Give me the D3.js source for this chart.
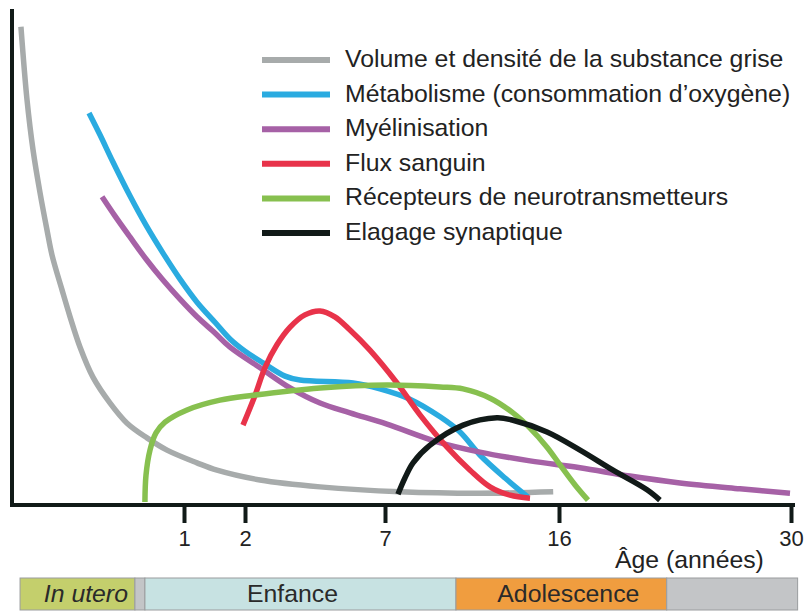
<!DOCTYPE html>
<html><head><meta charset="utf-8">
<script src="https://cdn.jsdelivr.net/npm/d3@7"></script>
<style>
html,body{margin:0;padding:0;background:#fff;}
svg{display:block;font-family:"Liberation Sans",Arial,Helvetica,sans-serif;}
</style></head>
<body>
<svg id="chart" width="808" height="611"></svg>
<script>
// ---- data (age in years, negative = before birth; value = relative level 0-100) ----
const tickAges = [1, 2, 7, 16, 30];
const xLabel = "Âge (années)";

const seriesNames = [
  "Volume et densité de la substance grise",
  "Métabolisme (consommation d’oxygène)",
  "Myélinisation",
  "Flux sanguin",
  "Récepteurs de neurotransmetteurs",
  "Elagage synaptique"
];
const seriesColors = ["#a7abab", "#2aabe0", "#a661a6", "#e8334a", "#87c04f", "#111a18"];

const greyMatter = [[-0.700,97.6],[-0.666,82.7],[-0.632,72.4],[-0.593,63.7],[-0.554,56.1],[-0.526,51.0],[-0.470,43.9],[-0.425,38.4],[-0.369,32.2],[-0.297,26.1],[-0.201,20.8],[-0.106,16.7],[0.026,13.7],[0.553,11.2],[1.213,8.6],[1.541,7.1],[2.536,5.1],[4.68,3.7],[7.78,2.7],[11.9,2.4],[15.7,2.7]];
const metabolism = [[-0.319,80.0],[-0.257,75.5],[-0.185,70.0],[-0.090,63.1],[0,57.1],[0.447,51.4],[0.895,46.1],[1.213,41.4],[1.508,37.3],[1.754,33.9],[2.0,31.4],[2.643,29.0],[3.43,26.3],[3.96,25.5],[5.86,24.9],[6.82,23.7],[8.29,21.6],[9.85,18.0],[10.88,14.9],[11.91,10.2],[13.21,5.5],[14.40,1.6]];
const myelination = [[-0.246,62.9],[-0.174,59.0],[-0.090,54.7],[0,50.2],[0.447,45.9],[0.895,42.0],[1.213,38.4],[1.508,35.1],[1.754,32.2],[2.643,27.6],[3.61,23.9],[4.68,20.8],[5.75,18.8],[7.10,16.5],[9.69,12.9],[11.91,10.8],[14.50,9.0],[17.27,7.6],[20.28,5.9],[23.30,4.5],[26.92,3.3],[29.94,2.4]];
const bloodFlow = [[1.967,16.3],[2.36,22.4],[2.71,28.0],[3.14,32.7],[3.61,36.3],[4.14,38.8],[4.68,39.6],[5.21,38.4],[5.75,35.7],[6.46,31.6],[7.62,24.9],[8.81,18.4],[10.21,11.8],[11.40,7.1],[12.43,3.7],[13.47,2.0],[14.50,1.4]];
const receptors = [[-0.006,0.6],[0,6.1],[0.105,11.2],[0.263,14.7],[0.5,16.9],[1.05,19.4],[1.59,21.4],[2.29,22.4],[4.68,23.9],[7.10,24.5],[9.85,24.1],[11.04,23.7],[12.44,21.8],[13.62,18.8],[14.50,15.7],[15.38,11.8],[16.06,8.2],[16.97,4.1],[17.75,1.0]];
const pruning = [[7.67,2.2],[8.03,5.5],[8.45,8.6],[9.33,12.2],[11.04,16.3],[12.79,17.8],[13.62,17.3],[15.38,14.9],[17.27,11.2],[19.26,7.1],[21.31,3.1],[22.09,1.0]];

const bandLabels = ["In utero", "", "Enfance", "Adolescence", ""];
const bandStarts = [-0.705, -0.062, -0.006, 10.67, 22.5];
const bandEnds   = [-0.062, -0.006, 10.67, 22.5, 30.4];
const bandColors = ["#c4cf6c", "#c3c5c7", "#c7e2e2", "#f09d3f", "#c3c5c7"];

// ---- chart ----
const svg = d3.select("#chart");
const x = d3.scaleLinear()
  .domain([-0.75, 0, 1, 2, 7, 16, 30])
  .range([12, 146, 184, 245, 385, 559, 791]);
const y = d3.scaleLinear().domain([0, 100]).range([505, 15]);

const allSeries = [greyMatter, metabolism, myelination, bloodFlow, receptors, pruning];

const line = d3.line().x(d => x(d[0])).y(d => y(d[1])).curve(d3.curveCatmullRom.alpha(0.5));

svg.append("g").selectAll("path").data(allSeries).join("path")
  .attr("d", line)
  .attr("fill", "none")
  .attr("stroke", (d, i) => seriesColors[i])
  .attr("stroke-width", 5.5)
  .attr("stroke-linecap", "butt");

// axes
svg.append("line")
  .attr("x1", x(-0.75)).attr("x2", x(-0.75))
  .attr("y1", 9).attr("y2", y(0) + 2)
  .attr("stroke", "#111a18").attr("stroke-width", 4);

const xAxis = d3.axisBottom(x).tickValues(tickAges).tickSize(18).tickSizeOuter(0).tickPadding(7).tickFormat(d3.format("d"));
const gx = svg.append("g").attr("transform", `translate(0,${y(0)})`).call(xAxis);
gx.select(".domain").attr("stroke", "#111a18").attr("stroke-width", 4).attr("d", `M${x(-0.75) - 2},0H${x(30) + 4}`);
gx.selectAll(".tick line").attr("stroke", "#111a18").attr("stroke-width", 4);
gx.selectAll(".tick text").attr("fill", "#222").attr("font-size", 22).attr("font-family", "Liberation Sans, Arial, sans-serif");

svg.append("text").attr("x", 615).attr("y", 568).attr("font-size", 24.8).attr("fill", "#222").text(xLabel);

// legend
const leg = svg.append("g");
seriesNames.forEach((name, i) => {
  const ly = 60 + i * 34.6;
  leg.append("line").attr("x1", 262).attr("x2", 330).attr("y1", ly).attr("y2", ly)
    .attr("stroke", seriesColors[i]).attr("stroke-width", 6);
  leg.append("text").attr("x", 345).attr("y", ly + 7).attr("font-size", 24.8).attr("fill", "#222").text(name);
});

// life-stage band
const labelShift = [0, 0, -8, 7, 0];
const band = svg.append("g");
bandLabels.forEach((lab, i) => {
  const x0 = x(bandStarts[i]), x1 = x(bandEnds[i]);
  band.append("rect").attr("x", x0).attr("y", 578).attr("width", x1 - x0).attr("height", 32)
    .attr("fill", bandColors[i]).attr("stroke", "#9a9c9e").attr("stroke-width", 1);
  if (lab) {
    const t = band.append("text").attr("y", 602).attr("font-size", 24.8).attr("fill", "#2a2a2a").text(lab);
    if (i === 0) t.attr("x", x1 - 7).attr("text-anchor", "end").attr("font-style", "italic");
    else t.attr("x", (x0 + x1) / 2 + labelShift[i]).attr("text-anchor", "middle");
  }
});
</script>
</body></html>
